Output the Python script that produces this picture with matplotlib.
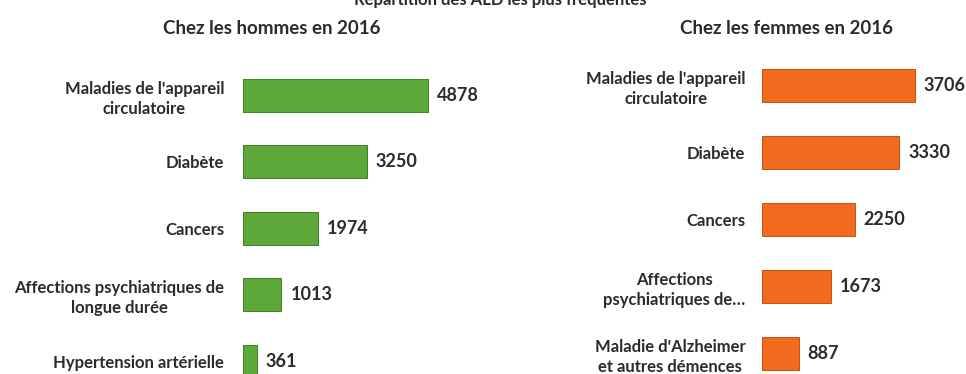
import matplotlib.pyplot as plt

plt.rcParams["font.family"] = ["Lato", "DejaVu Sans"]

title = "Répartition des ALD les plus fréquentes"

men_title = "Chez les hommes en 2016"
men_labels = ["Maladies de l'appareil\ncirculatoire", "Diabète", "Cancers",
              "Affections psychiatriques de\nlongue durée", "Hypertension artérielle"]
men_values = [4878, 3250, 1974, 1013, 361]

women_title = "Chez les femmes en 2016"
women_labels = ["Maladies de l'appareil\ncirculatoire", "Diabète", "Cancers",
                "Affections\npsychiatriques de…", "Maladie d'Alzheimer\net autres démences"]
women_values = [3706, 3330, 2250, 1673, 887]

W, H = 966, 374
txt = "#2b2b2b"

fig = plt.figure(figsize=(W / 100, H / 100), dpi=100)


def panel(left_px, top_px, width_px, step_px, px_per_unit, labels, values, color, edge, pad):
    height_px = step_px * len(values)
    ax = fig.add_axes([left_px / W, (H - top_px - height_px) / H, width_px / W, height_px / H])
    pos = list(range(len(values)))
    bars = ax.barh(pos, values, height=0.5, color=color, edgecolor=edge, linewidth=0.7)
    ax.set_xlim(0, width_px / px_per_unit)
    ax.set_ylim(len(values) - 0.5, -0.5)
    ax.set_yticks(pos)
    ax.set_yticklabels(labels, fontsize=12, fontweight="bold", color=txt)
    for t in ax.get_yticklabels():
        t.set_multialignment("center")
        t.set_linespacing(1.3)
    ax.tick_params(axis="y", length=0, pad=pad)
    ax.set_xticks([])
    for s in ax.spines.values():
        s.set_visible(False)
    ax.patch.set_visible(False)
    ax.bar_label(bars, padding=6.5, fontsize=13, fontweight="bold", color=txt)
    return ax


panel(243, 62, 230, 66.5, 0.0380, men_labels, men_values, "#5ea83a", "#3f7d24", 13.5)
panel(762, 52, 190, 67, 0.0412, women_labels, women_values, "#f26a1e", "#c9500f", 12)

fig.text(0.518, 1.0, title, ha="center", va="center", fontsize=12, fontweight="bold", color=txt)
fig.text(272 / W, 1 - 28 / H, men_title, ha="center", va="center", fontsize=13.5, fontweight="bold", color=txt)
fig.text(787 / W, 1 - 28 / H, women_title, ha="center", va="center", fontsize=13.5, fontweight="bold", color=txt)

fig.savefig("out.png", dpi=100, facecolor="white")
